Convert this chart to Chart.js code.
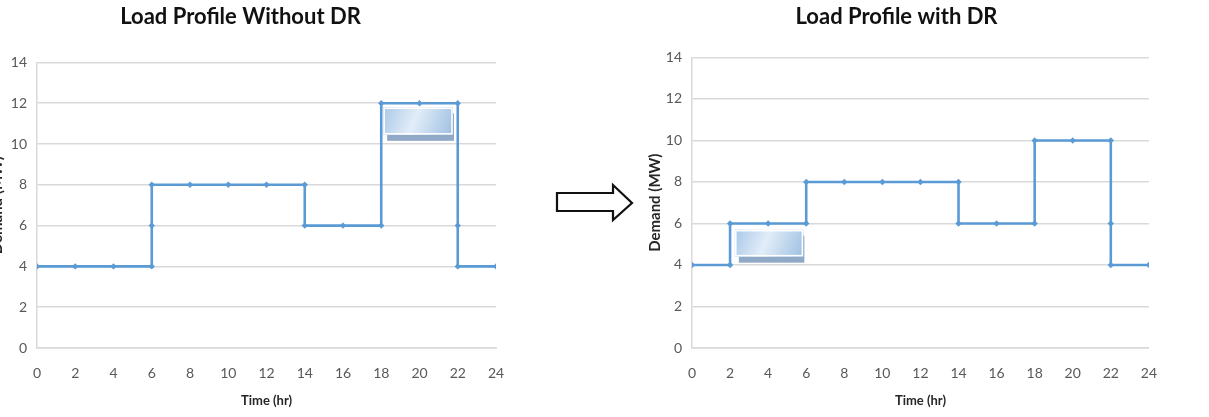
<!DOCTYPE html>
<html>
<head>
<meta charset="utf-8">
<script src="https://cdn.jsdelivr.net/npm/chart.js@4.4.1/dist/chart.umd.min.js"></script>
<style>
html, body { margin: 0; padding: 0; background: #fff; width: 1209px; height: 417px; overflow: hidden; position: relative; }
canvas { position: absolute; top: 0; }
#before { left: -15px; }
#after { left: 640px; }
#arrow { position: absolute; left: 550px; top: 178px; }
</style>
</head>
<body>
<canvas id="before" width="540" height="417"></canvas>
<canvas id="after" width="534" height="417"></canvas>
<svg id="arrow" width="90" height="50">
  <polygon points="7,15 63,15 63,7 82,25 63,42 63,33 7,33" fill="#fff" stroke="#111" stroke-width="2.2" stroke-linejoin="miter"/>
</svg>
<script>
// load profile without demand response
const beforeX = [0, 2, 4, 6, 6, 6, 8, 10, 12, 14, 14, 16, 18, 18, 20, 22, 22, 22, 24];
const beforeY = [4, 4, 4, 4, 6, 8, 8, 8, 8, 8, 6, 6, 6, 12, 12, 12, 6, 4, 4];

// load profile with demand response (peak shifted into hours 2-6)
const afterX = [0, 2, 2, 4, 6, 6, 8, 10, 12, 14, 14, 16, 18, 18, 20, 22, 22, 22, 24];
const afterY = [4, 4, 6, 6, 6, 8, 8, 8, 8, 8, 6, 6, 6, 10, 10, 10, 6, 4, 4];

// shaded blocks marking the moved load: [xFrom, xTo, yBottom, yTop]
const beforeBlock = [18.1, 21.75, 10.45, 11.8];
const afterBlock = [2.25, 5.85, 4.4, 5.7];

const xMin = 0, xMax = 24, xStep = 2;
const yMin = 0, yMax = 14, yStep = 2;

const lineColor = 'rgb(91,155,213)';
const gridColor = '#d9d9d9';
const tickColor = '#595959';
const fontFamily = 'Lato, "Open Sans", sans-serif';

const blockPlugin = {
    id: 'block',
    beforeDatasetsDraw(chart, args, opts) {
        const b = opts.box;
        if (!b) return;
        const xs = chart.scales.x, ys = chart.scales.y;
        const ctx = chart.ctx;
        const x1 = xs.getPixelForValue(b[0]), x2 = xs.getPixelForValue(b[1]);
        const y1 = ys.getPixelForValue(b[3]), y2 = ys.getPixelForValue(b[2]);
        ctx.save();
        // darker shadow band underneath
        ctx.fillStyle = '#8fa9c6';
        ctx.fillRect(x1 + 4, y1 + 6, x2 - x1 - 3, y2 - y1);
        // main gradient box
        const g = ctx.createLinearGradient(x1, y1, x2, y2);
        g.addColorStop(0, '#a9c8e8');
        g.addColorStop(0.45, '#e2edf8');
        g.addColorStop(1, '#9dbfe2');
        ctx.fillStyle = g;
        ctx.fillRect(x1, y1, x2 - x1, y2 - y1);
        ctx.strokeStyle = '#ffffff';
        ctx.lineWidth = 1.5;
        ctx.strokeRect(x1 + 1, y1 + 1, x2 - x1 - 2, y2 - y1 - 2);
        ctx.restore();
    }
};

function makeChart(id, xs, ys, title, box, titleGap, rightPad, yTitlePad) {
    const points = xs.map(function(x, i) { return { x: x, y: ys[i] }; });
    return new Chart(document.getElementById(id).getContext('2d'), {
        type: 'scatter',
        data: {
            datasets: [{
                data: points,
                showLine: true,
                borderColor: lineColor,
                backgroundColor: lineColor,
                borderWidth: 2.6,
                pointStyle: 'rectRot',
                pointRadius: 3.2,
                pointBorderWidth: 0,
                tension: 0
            }]
        },
        plugins: [blockPlugin],
        options: {
            responsive: false,
            animation: false,
            layout: { padding: { left: 0, right: rightPad, top: 0, bottom: 0 } },
            plugins: {
                legend: { display: false },
                tooltip: { enabled: false },
                title: {
                    display: true,
                    text: title,
                    color: '#111',
                    font: { family: fontFamily, size: 22, weight: 'bold', lineHeight: 1.2 },
                    padding: { top: 4, bottom: titleGap }
                },
                block: { box: box }
            },
            scales: {
                x: {
                    type: 'linear',
                    min: xMin,
                    max: xMax,
                    ticks: { stepSize: xStep, color: tickColor, padding: 17, font: { family: fontFamily, size: 14 } },
                    grid: { display: false, drawTicks: false },
                    border: { display: true, color: gridColor, width: 1.5 },
                    title: { display: true, text: 'Time (hr)', color: '#262626', font: { family: fontFamily, size: 13, weight: 'bold' }, padding: { top: 0, bottom: 8 } },
                    afterFit: function(scale) { scale.height = 69; }
                },
                y: {
                    min: yMin,
                    max: yMax,
                    ticks: { stepSize: yStep, color: tickColor, padding: 10, font: { family: fontFamily, size: 14 } },
                    grid: { color: gridColor, lineWidth: 1.5, drawTicks: false },
                    border: { display: true, color: gridColor, width: 1.5 },
                    title: { display: true, text: 'Demand (MW)', color: '#262626', font: { family: fontFamily, size: 15, weight: 'bold' }, padding: { top: yTitlePad, bottom: 0 } },
                    afterFit: function(scale) { scale.width = 52; }
                }
            }
        }
    });
}

makeChart('before', beforeX, beforeY, 'Load Profile Without DR', beforeBlock, 32, 29, 3);
makeChart('after', afterX, afterY, 'Load Profile with DR', afterBlock, 27, 21, 6);
</script>
</body>
</html>
